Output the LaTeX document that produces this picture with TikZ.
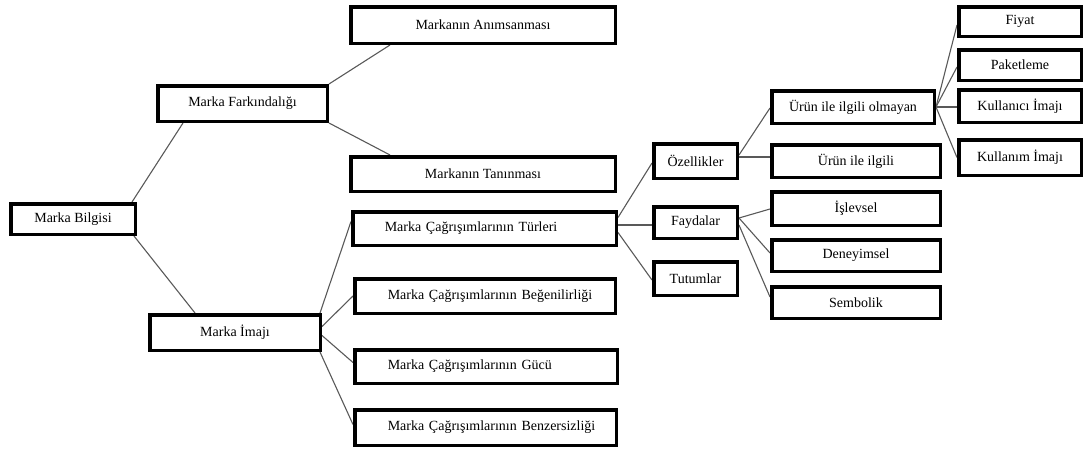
\documentclass[tikz,border=0pt]{standalone}
\usepackage{fontspec}
\setmainfont{Liberation Serif}
\usetikzlibrary{calc,backgrounds}

\tikzset{
  box/.style 2 args={draw=black, line width=3.5pt, fill=white, inner sep=0pt,
    minimum width=#1pt-3.5pt, minimum height=#2pt-3.5pt,
    font=\fontsize{14}{16}\selectfont},
  lbox/.style 2 args={box={#1}{#2}, text width=#1pt-3.5pt, align=left},
  link/.style={draw=black!65, line width=1.1pt},
}

\begin{document}
\begin{tikzpicture}[x=1pt, y=-1pt]
\useasboundingbox (0,0) rectangle (1088,450);

% level 1 and 2
\node[box={128}{34}] (bilgi) at (73,219) {Marka Bilgisi};
\node[box={173}{39}] (fark)  at (242.5,103.5) {Marka Farkındalığı};
\node[box={174}{39}] (imaj)  at (235,332.5) {Marka İmajı};

% awareness branch
\node[box={268}{40}] (anim) at (483,25)  {Markanın Anımsanması};
\node[box={268}{38}] (tani) at (483,174) {Markanın Tanınması};

% image branch
\node[lbox={267}{37}] (turl) at (484.5,228.5) {\hspace*{32pt}Marka Çağrışımlarının Türleri};
\node[lbox={264}{38}] (beg)  at (485,296)     {\hspace*{33pt}Marka Çağrışımlarının Beğenilirliği};
\node[lbox={266}{37}] (guc)  at (486,366.5)   {\hspace*{33pt}Marka Çağrışımlarının Gücü};
\node[lbox={265}{39}] (benz) at (485.5,427.5) {\hspace*{33pt}Marka Çağrışımlarının Benzersizliği};

% types of associations
\node[box={87}{38}] (ozel) at (695.5,161)   {Özellikler};
\node[box={87}{35}] (fayd) at (695.5,222.5) {Faydalar};
\node[box={87}{37}] (tutu) at (695.5,278.5) {Tutumlar};

% attributes and benefits
\node[box={166}{36}] (olma) at (853,107)   {Ürün ile ilgili olmayan};
\node[box={172}{36}] (ilgi) at (856,161)   {Ürün ile ilgili};
\node[box={172}{37}] (isle) at (856,208.5) {İşlevsel};
\node[box={172}{35}] (deny) at (856,255.5) {Deneyimsel};
\node[box={172}{35}] (semb) at (856,302.5) {Sembolik};

% non-product-related attributes
\node[box={126}{33}] (fiyat) at (1020,21.5)  {Fiyat};
\node[box={126}{34}] (pak)   at (1020,65)    {Paketleme};
\node[box={126}{36}] (kulc)  at (1020,106)   {Kullanıcı İmajı};
\node[box={126}{39}] (kulm)  at (1020,157.5) {Kullanım İmajı};

\begin{scope}[on background layer]
  \draw[link] ($(bilgi.north east)+(-5,0)$) -- ($(fark.south west)+(27,0)$);
  \draw[link] ($(bilgi.south east)+(-3,0)$) -- ($(imaj.north west)+(47,0)$);
  \draw[link] (fark.north east) -- ($(anim.south west)+(41,0)$);
  \draw[link] (fark.south east) -- ($(tani.north west)+(41,0)$);

  \draw[link] ($(imaj.north east)+(-2,0)$) -- ($(turl.west)+(0,-7)$);
  \draw[link] ($(imaj.east)+(0,-6)$) -- (beg.west);
  \draw[link] ($(imaj.east)+(0,3)$) -- ($(guc.west)+(0,-4)$);
  \draw[link] ($(imaj.south east)+(-2,0)$) -- ($(benz.west)+(0,-3)$);

  \draw[link] ($(turl.east)+(0,-11)$) -- ($(ozel.west)+(0,2)$);
  \draw[link] ($(turl.east)+(0,-3.5)$) -- ($(fayd.west)+(0,2.5)$);
  \draw[link] ($(turl.east)+(0,4)$) -- ($(tutu.west)+(0,1.5)$);

  \draw[link] ($(ozel.east)+(0,-6)$) -- ($(olma.west)+(0,1)$);
  \draw[link] ($(ozel.east)+(0,-4)$) -- ($(ilgi.west)+(0,-4)$);

  \draw[link] ($(fayd.east)+(0,-4.5)$) -- ($(isle.west)+(0,0.5)$);
  \draw[link] ($(fayd.east)+(0,-4.5)$) -- ($(deny.west)+(0,-2.5)$);
  \draw[link] ($(fayd.east)+(0,2.5)$) -- ($(semb.west)+(0,-5.5)$);

  \draw[link] (olma.east) -- ($(fiyat.west)+(0,3.5)$);
  \draw[link] (olma.east) -- ($(pak.west)+(0,2)$);
  \draw[link] (olma.east) -- ($(kulc.west)+(0,1)$);
  \draw[link] (olma.east) -- (kulm.west);
\end{scope}
\end{tikzpicture}
\end{document}
